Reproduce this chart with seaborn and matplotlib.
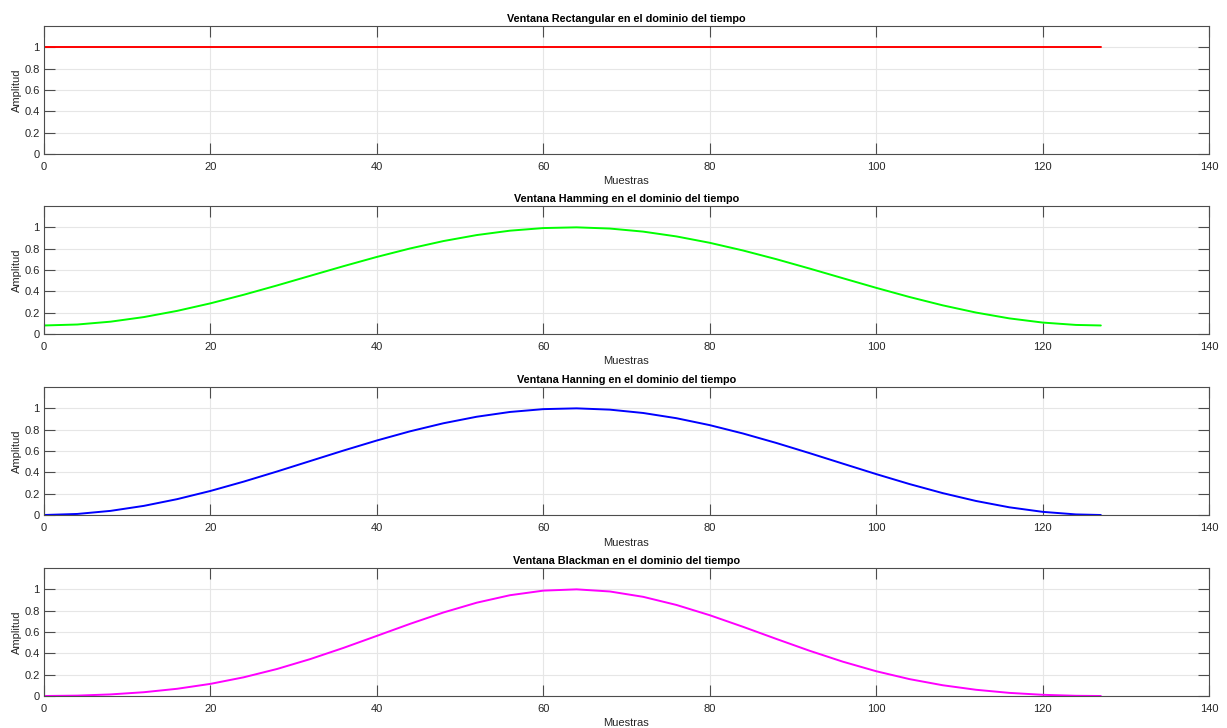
import numpy as np
import pandas as pd
import matplotlib
matplotlib.use("Agg")
import matplotlib.pyplot as plt
import seaborn as sns

# Sample indices
muestras = [0, 4, 8, 12, 16, 20, 24, 28, 32, 36, 40, 44, 48, 52, 56, 60, 64,
            68, 72, 76, 80, 84, 88, 92, 96, 100, 104, 108, 112, 116, 120, 124, 127]

rectangular = [1.0] * len(muestras)

hamming = [0.0800, 0.0890, 0.1156, 0.1587, 0.2168, 0.2874, 0.3679, 0.4551, 0.5457,
           0.6360, 0.7226, 0.8020, 0.8713, 0.9275, 0.9687, 0.9931, 0.9999, 0.9886,
           0.9599, 0.9148, 0.8551, 0.7830, 0.7015, 0.6136, 0.5229, 0.4329, 0.3470,
           0.2687, 0.2010, 0.1465, 0.1073, 0.0851, 0.0800]

hanning = [0.0000, 0.0098, 0.0387, 0.0856, 0.1486, 0.2254, 0.3130, 0.4078, 0.5062,
           0.6044, 0.6985, 0.7848, 0.8601, 0.9212, 0.9660, 0.9925, 0.9998, 0.9877,
           0.9564, 0.9074, 0.8425, 0.7641, 0.6755, 0.5800, 0.4815, 0.3836, 0.2903,
           0.2051, 0.1315, 0.0722, 0.0297, 0.0055, 0.0000]

blackman = [0.0000, 0.0036, 0.0149, 0.0355, 0.0677, 0.1137, 0.1753, 0.2532, 0.3462,
            0.4513, 0.5637, 0.6767, 0.7830, 0.8748, 0.9449, 0.9878, 0.9998, 0.9799,
            0.9298, 0.8536, 0.7575, 0.6488, 0.5352, 0.4242, 0.3217, 0.2323, 0.1584,
            0.1008, 0.0584, 0.0293, 0.0113, 0.0020, 0.0000]

titulos = ["Ventana Rectangular en el dominio del tiempo",
           "Ventana Hamming en el dominio del tiempo",
           "Ventana Hanning en el dominio del tiempo",
           "Ventana Blackman en el dominio del tiempo"]
colores = ["#ff0000", "#00ff00", "#0000ff", "#ff00ff"]
series = [rectangular, hamming, hanning, blackman]
xticks = [0, 20, 40, 60, 80, 100, 120, 140]
yticks = [0, 0.2, 0.4, 0.6, 0.8, 1]
yticklabels = ["0", "0.2", "0.4", "0.6", "0.8", "1"]

sns.set_style("white")
plt.rcParams['font.family'] = ['Liberation Sans', 'DejaVu Sans']

fig = plt.figure(figsize=(12.27, 7.28), dpi=100)
W, H = 1227, 728
left, right = 44, 1209
tops = [26, 206, 387, 568]
bottoms = [154, 334, 515, 696]

axcol = "#4d4d4d"
txtcol = "#262626"
for i in range(4):
    ax = fig.add_axes([left / W, (H - bottoms[i]) / H, (right - left) / W,
                       (bottoms[i] - tops[i]) / H])
    df = pd.DataFrame({"Muestras": muestras, "Amplitud": series[i]})
    sns.lineplot(data=df, x="Muestras", y="Amplitud", ax=ax, color=colores[i],
                 linewidth=1.4)
    ax.set_xlim(0, 140)
    ax.set_ylim(0, 1.2)
    ax.set_xticks(xticks)
    ax.set_yticks(yticks)
    ax.set_yticklabels(yticklabels)
    ax.grid(True, color="#e6e6e6", linewidth=0.8)
    ax.set_axisbelow(True)
    for s in ax.spines.values():
        s.set_visible(True)
        s.set_color(axcol)
        s.set_linewidth(0.8)
    ax.tick_params(axis="both", which="major", direction="in", length=8,
                   width=0.8, color=axcol, labelsize=8, labelcolor=txtcol,
                   top=True, right=True, bottom=True, left=True)
    ax.tick_params(axis="x", pad=6)
    ax.tick_params(axis="y", pad=3)
    ax.set_title(titulos[i], fontsize=7.8, fontweight="bold", color="#000000",
                 pad=3)
    ax.set_xlabel("Muestras", fontsize=8, color=txtcol, labelpad=3)
    ax.set_ylabel("Amplitud", fontsize=8, color=txtcol, labelpad=2)

fig.savefig("out.png", dpi=100, facecolor="white")
